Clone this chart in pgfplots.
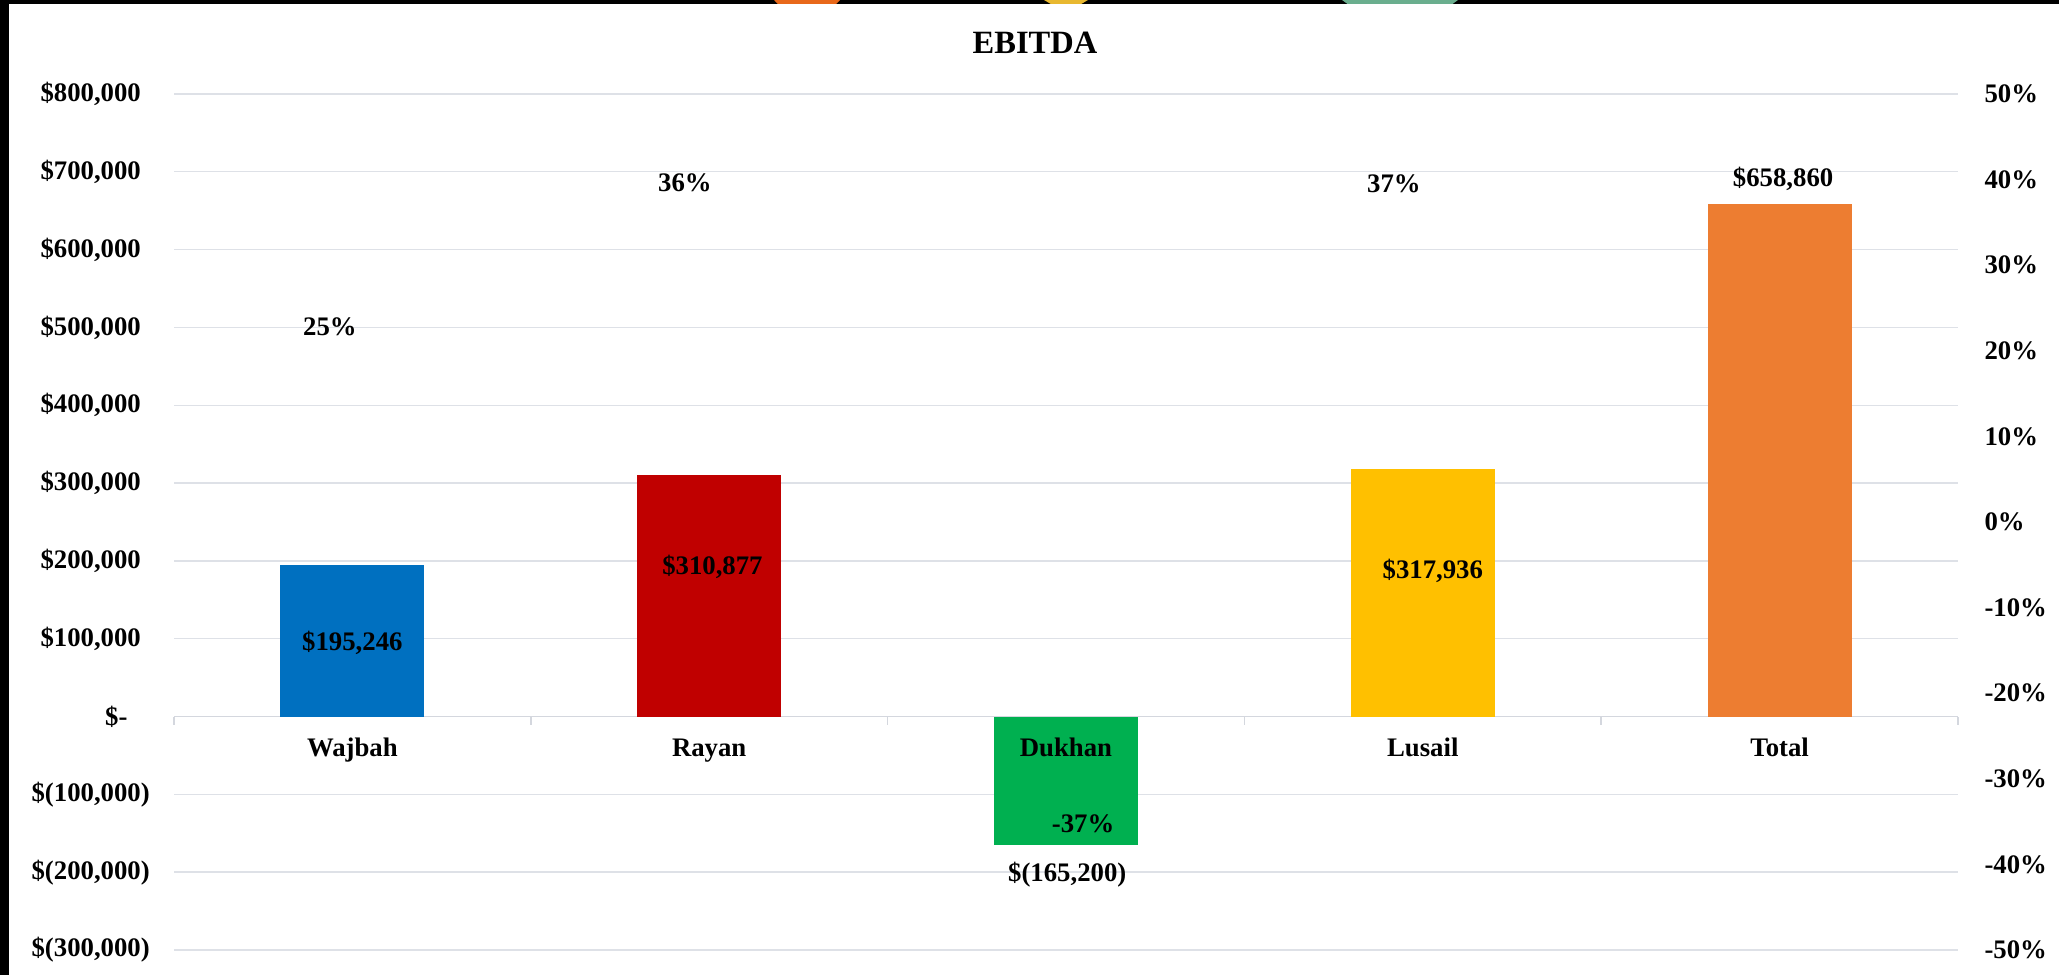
\documentclass[border=0pt]{standalone}
\usepackage{fontspec}
\setmainfont{Liberation Serif}
\usepackage{pgfplots}
\pgfplotsset{compat=1.18}
\definecolor{gridc}{RGB}{222,225,231}
\definecolor{zeroc}{RGB}{212,215,222}
\definecolor{cblue}{HTML}{0070C0}
\definecolor{cred}{HTML}{C00000}
\definecolor{cgreen}{HTML}{00B050}
\definecolor{cgold}{HTML}{FFC000}
\definecolor{corange}{HTML}{ED7D31}
\definecolor{dorange}{HTML}{E8681A}
\definecolor{dyellow}{HTML}{E8B830}
\definecolor{dgreen}{HTML}{6AAE8E}
\newcommand{\lf}{\bfseries\fontsize{10.7pt}{12.8pt}\selectfont}
\begin{document}
\begin{tikzpicture}
\path (0,0) rectangle (823.6pt,390pt);
\fill[black] (0,0) rectangle (3.6pt,390pt);
\fill[black] (0,388.4pt) rectangle (823.6pt,390pt);
\fill[dorange] (309.6pt,390pt) -- (336pt,390pt) -- (334.5pt,388.4pt) -- (311.1pt,388.4pt) -- cycle;
\fill[dyellow] (417.6pt,390pt) -- (435.2pt,390pt) -- (432.5pt,388.4pt) -- (420.3pt,388.4pt) -- cycle;
\fill[dgreen] (536.8pt,390pt) -- (583.2pt,390pt) -- (581pt,388.4pt) -- (539pt,388.4pt) -- cycle;
\node[font=\bfseries\fontsize{13pt}{15pt}\selectfont] at (414pt,372.8pt) {EBITDA};

\begin{axis}[
  at={(69.6pt,10pt)}, anchor=south west,
  scale only axis, width=713.6pt, height=342.4pt,
  xmin=-0.5, xmax=4.5, ymin=-300000, ymax=800000,
  scaled y ticks=false,
  axis x line*=middle, axis y line*=left,
  x axis line style={color=zeroc, line width=0.6pt},
  y axis line style={draw=none},
  xtick={0,1,2,3,4},
  xticklabels={},
  minor xtick={-0.5,0.5,1.5,2.5,3.5,4.5},
  major tick length=0pt, minor tick length=3.2pt,
  tick align=outside,
  every minor tick/.append style={color=zeroc, line width=0.6pt},
  ytick={-300000,-200000,-100000,0,100000,200000,300000,400000,500000,600000,700000,800000},
  yticklabels={{\$(300,000)},{\$(200,000)},{\$(100,000)},{\$-\hphantom{0)}},{\$100,000\hphantom{)}},{\$200,000\hphantom{)}},{\$300,000\hphantom{)}},{\$400,000\hphantom{)}},{\$500,000\hphantom{)}},{\$600,000\hphantom{)}},{\$700,000\hphantom{)}},{\$800,000\hphantom{)}}},
  ymajorgrids, grid style={color=gridc, line width=0.55pt},
  yticklabel style={font=\lf, anchor=east, inner sep=0pt, xshift=-9.5pt},
  point meta=explicit symbolic,
]
\addplot[ybar, bar width=0.4036, bar shift=0pt, fill=cblue, draw=none,
  nodes near coords, every node near coord/.append style={font=\lf, anchor=center, inner sep=0pt, yshift=-31.3pt}]
  coordinates {(0,195246) [{\$195,246}]};
\addplot[ybar, bar width=0.4036, bar shift=0pt, fill=cred, draw=none,
  nodes near coords, every node near coord/.append style={font=\lf, anchor=center, inner sep=0pt, yshift=-37pt, xshift=1.3pt}]
  coordinates {(1,310877) [{\$310,877}]};
\addplot[ybar, bar width=0.4036, bar shift=0pt, fill=cgreen, draw=none,
  nodes near coords, every node near coord/.append style={font=\lf, anchor=center, inner sep=0pt, yshift=-12pt, xshift=0.5pt}]
  coordinates {(2,-165200) [{\$(165,200)}]};
\addplot[ybar, bar width=0.4036, bar shift=0pt, fill=cgold, draw=none,
  nodes near coords, every node near coord/.append style={font=\lf, anchor=center, inner sep=0pt, yshift=-40.7pt, xshift=4pt}]
  coordinates {(3,317936) [{\$317,936}]};
\addplot[ybar, bar width=0.4036, bar shift=0pt, fill=corange, draw=none,
  nodes near coords, every node near coord/.append style={font=\lf, anchor=center, inner sep=0pt, yshift=10pt, xshift=1.4pt}]
  coordinates {(4,658860) [{\$658,860}]};
\end{axis}

\begin{axis}[
  at={(69.6pt,10pt)}, anchor=south west,
  scale only axis, width=713.6pt, height=342.4pt,
  xmin=-0.5, xmax=4.5, ymin=-50, ymax=50,
  axis x line*=bottom, axis y line*=right,
  x axis line style={draw=none},
  y axis line style={draw=none},
  xtick={0,1,2,3,4},
  xticklabels={Wajbah,Rayan,Dukhan,Lusail,Total},
  xticklabel style={font=\lf, anchor=base, inner sep=0pt, yshift=77.2pt},
  major tick length=0pt,
  ytick={-50,-40,-30,-20,-10,0,10,20,30,40,50},
  yticklabels={-50\%,-40\%,-30\%,-20\%,-10\%,0\%,10\%,20\%,30\%,40\%,50\%},
  yticklabel style={font=\lf, anchor=west, inner sep=0pt, xshift=10.4pt},
]
\addplot[draw=none, mark=none, nodes near coords, point meta=explicit symbolic,
  every node near coord/.append style={font=\lf, anchor=center, inner sep=0pt}]
  coordinates {(-0.063,22.76) [25\%] (0.932,39.64) [36\%] (2.048,-35.2) [-37\%] (2.919,39.49) [37\%]};
\end{axis}
\end{tikzpicture}
\end{document}
